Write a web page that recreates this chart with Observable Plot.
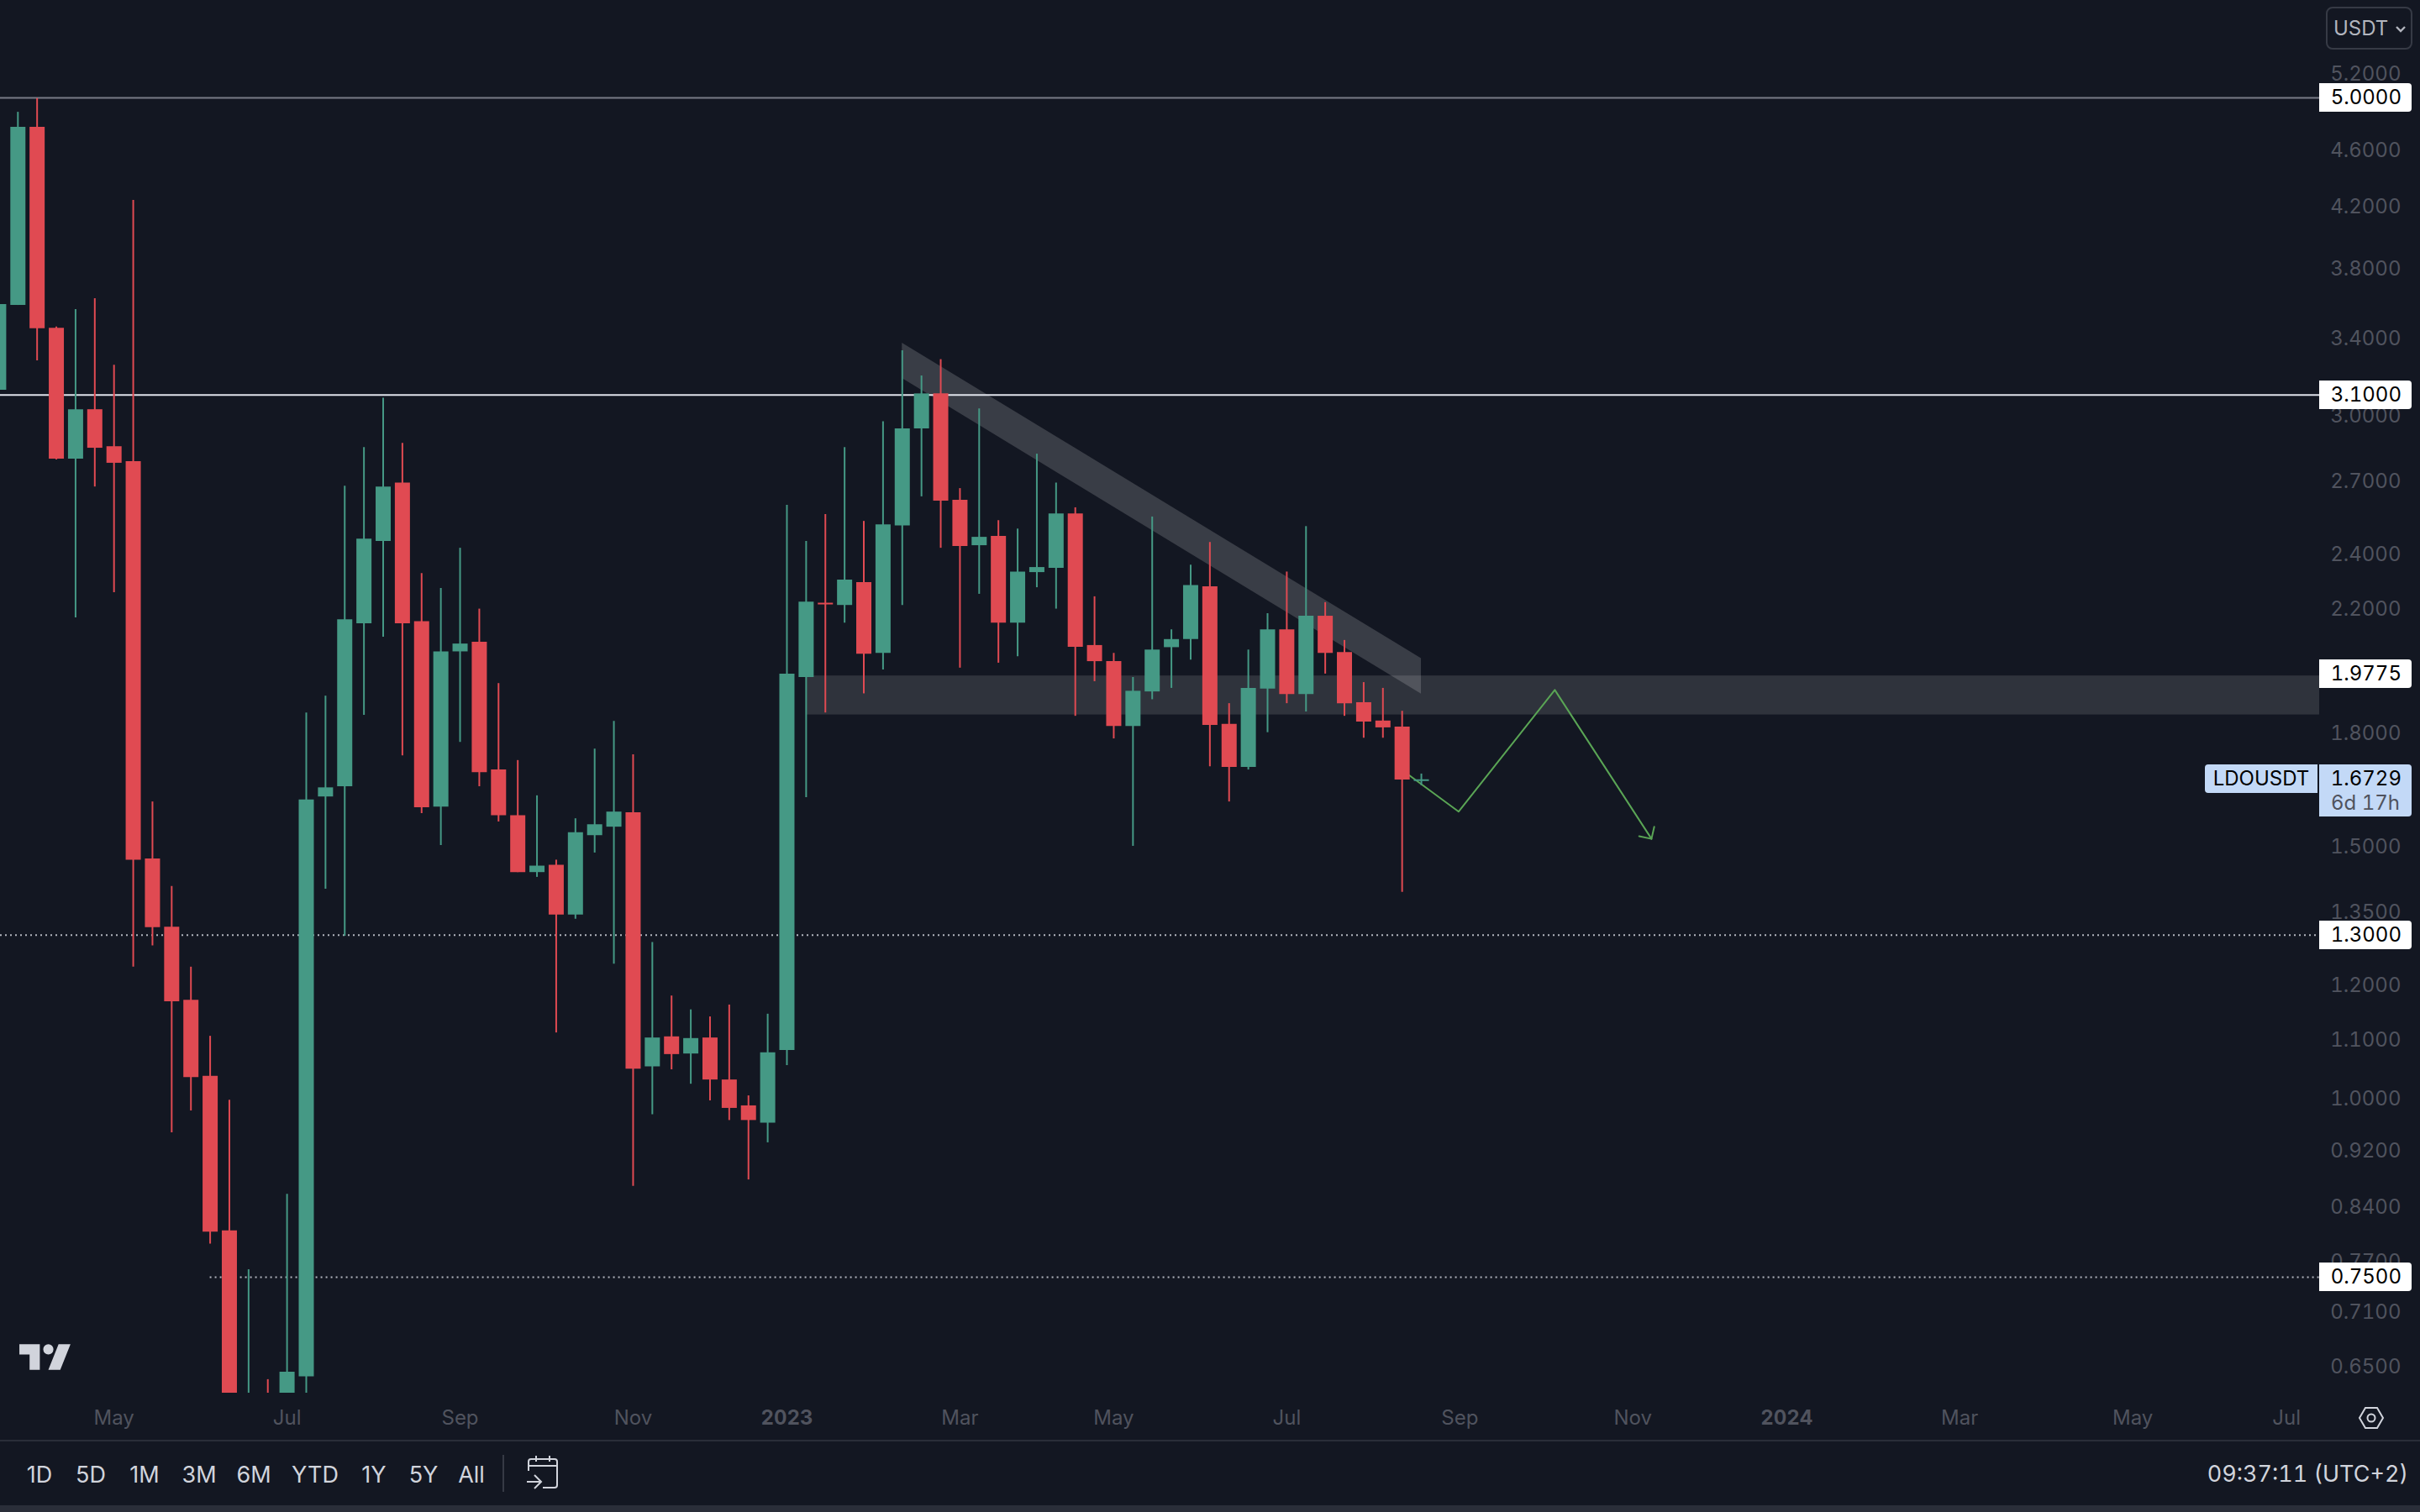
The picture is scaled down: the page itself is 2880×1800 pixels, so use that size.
<!DOCTYPE html>
<html>
<head>
<meta charset="utf-8">
<script src="https://cdn.jsdelivr.net/npm/d3@7"></script>
<script src="https://cdn.jsdelivr.net/npm/@observablehq/plot@0.6"></script>
<style>
html,body{margin:0;padding:0;background:#131722;overflow:hidden}
#wrap{position:relative;width:2880px;height:1800px;font-family:Inter,sans-serif;overflow:hidden;font-variant-numeric:tabular-nums}
#wrap svg{display:block}
.ui{position:absolute;white-space:nowrap;line-height:1}
.tool{color:#d1d4dc;font-size:27px;top:1742px;transform:translateX(-50%);font-variant-numeric:normal}
.lvl{position:absolute;left:2760px;width:110px;height:34px;background:#fff;color:#000;border-radius:0 4px 4px 0;font-size:24px;line-height:34px;text-align:right;box-sizing:border-box;padding-right:12px}
</style>
</head>
<body>
<div id="wrap"></div>
<script>
const weeks = ["2022-03-21","2022-03-28","2022-04-04","2022-04-11","2022-04-18","2022-04-25","2022-05-02","2022-05-09","2022-05-16","2022-05-23","2022-05-30","2022-06-06","2022-06-13","2022-06-20","2022-06-27","2022-07-04","2022-07-11","2022-07-18","2022-07-25","2022-08-01","2022-08-08","2022-08-15","2022-08-22","2022-08-29","2022-09-05","2022-09-12","2022-09-19","2022-09-26","2022-10-03","2022-10-10","2022-10-17","2022-10-24","2022-10-31","2022-11-07","2022-11-14","2022-11-21","2022-11-28","2022-12-05","2022-12-12","2022-12-19","2022-12-26","2023-01-02","2023-01-09","2023-01-16","2023-01-23","2023-01-30","2023-02-06","2023-02-13","2023-02-20","2023-02-27","2023-03-06","2023-03-13","2023-03-20","2023-03-27","2023-04-03","2023-04-10","2023-04-17","2023-04-24","2023-05-01","2023-05-08","2023-05-15","2023-05-22","2023-05-29","2023-06-05","2023-06-12","2023-06-19","2023-06-26","2023-07-03","2023-07-10","2023-07-17","2023-07-24","2023-07-31","2023-08-07","2023-08-14","2023-08-21"];
const opens = [3.124,3.581,4.770,3.452,2.797,3.028,2.853,2.785,1.470,1.317,1.171,1.036,0.808,0.575,0.60,0.585,0.639,1.624,1.651,2.146,2.450,2.691,2.153,1.598,2.051,2.083,1.696,1.576,1.438,1.455,1.343,1.526,1.547,1.583,1.052,1.104,1.074,1.102,1.030,0.988,0.961,1.080,1.968,2.218,2.210,2.293,2.046,2.512,2.936,3.106,2.617,2.433,2.470,2.148,2.330,2.346,2.561,2.072,2.019,1.819,1.923,2.065,2.092,2.277,1.825,1.703,1.932,2.125,1.915,2.172,2.049,1.890,1.835,1.817,1.665];
const highs = [3.70,4.886,4.995,3.459,3.557,3.620,3.253,4.240,1.611,1.406,1.235,1.105,0.997,0.759,0.636,0.857,1.859,1.910,2.677,2.849,3.085,2.868,2.326,2.271,2.423,2.197,1.949,1.722,1.627,1.467,1.568,1.754,1.834,1.738,1.285,1.179,1.153,1.140,1.162,1.004,1.145,2.596,2.450,2.558,2.849,2.530,2.970,3.329,3.197,3.282,2.667,3.032,2.533,2.499,2.819,2.691,2.586,2.241,2.046,1.968,2.548,2.125,2.358,2.446,1.887,2.057,2.181,2.332,2.509,2.220,2.089,1.952,1.934,1.864,1.685];
const lows = [3.05,3.581,3.276,2.793,2.166,2.674,2.256,1.235,1.278,0.946,0.980,0.791,0.58,0.55,0.56,0.56,0.60,1.400,1.298,1.852,2.100,1.735,1.581,1.502,1.773,1.651,1.560,1.438,1.427,1.111,1.334,1.484,1.241,0.868,0.974,1.047,1.023,0.996,0.965,0.877,0.931,1.054,1.622,1.859,2.148,1.917,1.992,2.210,2.632,2.423,1.998,2.250,2.014,2.035,2.274,2.197,1.849,1.955,1.783,1.500,1.899,1.934,2.024,1.705,1.611,1.696,1.801,1.887,1.862,1.979,1.849,1.785,1.785,1.393,1.654];
const closes = [3.586,4.770,3.449,2.797,3.028,2.846,2.778,1.467,1.316,1.168,1.034,0.8065,0.60,0.60,0.58,0.6436,1.616,1.648,2.160,2.459,2.674,2.146,1.596,2.051,2.077,1.689,1.576,1.438,1.453,1.343,1.533,1.553,1.585,1.048,1.102,1.073,1.101,1.030,0.984,0.965,1.076,1.979,2.222,2.212,2.302,2.043,2.516,2.936,3.106,2.614,2.430,2.466,2.148,2.332,2.349,2.561,2.066,2.019,1.819,1.925,2.057,2.092,2.282,1.822,1.703,1.934,2.125,1.915,2.172,2.046,1.887,1.832,1.815,1.669,1.6695];

const priceTicks = [5.2,4.6,4.2,3.8,3.4,3.0,2.7,2.4,2.2,2.0,1.8,1.5,1.35,1.2,1.1,1.0,0.92,0.84,0.77,0.71,0.65];
const monthTicks = ["2022-05-02","2022-07-04","2022-09-05","2022-11-07","2023-03-06","2023-05-01","2023-07-03","2023-09-04","2023-11-06","2024-03-04","2024-05-06","2024-07-01"];
const monthLabels = ["May","Jul","Sep","Nov","Mar","May","Jul","Sep","Nov","Mar","May","Jul"];
const yearTicks = ["2023-01-02","2024-01-01"];
const yearLabels = ["2023","2024"];
const timeDomain = ["2022-03-21T15:22Z","2024-07-13T01:00Z"];
const priceDomain = [0.6223,5.849];

const solidLevels = [{price:5.0,color:"#787b86"},{price:3.1,color:"#e0e3eb"}];
const fullDotted = [1.3];
const partDotted = [{price:0.75,from:"2022-06-06",to:timeDomain[1]}];
const zone = [{from:"2023-01-09",to:timeDomain[1],lo:1.853,hi:1.973}];
const wedge = [{t:"2023-02-13",lo:3.184,hi:3.370},{t:"2023-08-21",lo:1.916,hi:2.029}];
const pathTimes = ["2023-08-16T12:00Z","2023-09-03T14:00Z","2023-10-08T14:00Z","2023-11-12T19:00Z"];
const pathPrices = [1.682,1.586,1.929,1.518];
const headTimes = ["2023-11-13T19:00Z","2023-11-12T19:00Z","2023-11-08T07:00Z"];
const headPrices = [1.548,1.518,1.5244];

const labelPrices = [{v:5.0,t:"5.0000"},{v:3.1,t:"3.1000"},{v:1.9775,t:"1.9775"},{v:1.3,t:"1.3000"},{v:0.75,t:"0.7500"}];
const lastPrice = 1.6729;
const rangeButtons = [["1D",47],["5D",108],["1M",172],["3M",237],["6M",302],["YTD",375],["1Y",445],["5Y",504],["All",561]];

const d = s => new Date(s);
const candles = weeks.map((w,i)=>({t:d(w),o:opens[i],h:highs[i],l:lows[i],c:closes[i]}));
const pathData = pathTimes.map((t,i)=>({t:d(t),p:pathPrices[i]}));
const headData = headTimes.map((t,i)=>({t:d(t),p:headPrices[i]}));
const RED="#e04a52", GREEN="#459985", DIM="#50535e";
const col = c => c.c>=c.o?GREEN:RED;

const chart = Plot.plot({
  width:2880,height:1800,marginTop:0,marginLeft:0,marginRight:120,marginBottom:142,
  style:{background:"#131722",fontFamily:"Inter, sans-serif"},
  x:{type:"utc",domain:timeDomain.map(d)},
  y:{type:"log",domain:priceDomain},
  marks:[
    Plot.rect(zone,{x1:r=>d(r.from),x2:r=>d(r.to),y1:"lo",y2:"hi",fill:"#fff",fillOpacity:0.123,clip:true}),
    Plot.areaY(wedge,{x:r=>d(r.t),y1:"lo",y2:"hi",fill:"#fff",fillOpacity:0.165,clip:true}),
    Plot.ruleY(solidLevels,{y:"price",stroke:"color",strokeWidth:2}),
    Plot.ruleY(fullDotted,{stroke:"#b2b5be",strokeWidth:2,strokeDasharray:"2 4"}),
    Plot.ruleY(partDotted,{y:"price",x1:r=>d(r.from),x2:r=>d(r.to),stroke:"#b2b5be",strokeWidth:2,strokeDasharray:"2 4"}),
    Plot.line(pathData,{x:"t",y:"p",stroke:"#5aa555",strokeWidth:2,clip:true}),
    Plot.line(headData,{x:"t",y:"p",stroke:"#5aa555",strokeWidth:2,clip:true}),
    Plot.ruleX(candles,{x:"t",y1:"l",y2:"h",stroke:col,strokeWidth:2,clip:true}),
    Plot.ruleX(candles,{x:"t",y1:"o",y2:"c",stroke:col,strokeWidth:18,clip:true}),
    Plot.axisY({anchor:"right",ticks:priceTicks,tickFormat:v=>v.toFixed(4),tickSize:0,tickPadding:97,textAnchor:"end",fill:DIM,fontSize:24,dy:1,label:null}),
    Plot.axisX({anchor:"bottom",ticks:monthTicks.map(d),tickFormat:(v)=>monthLabels[monthTicks.findIndex(m=>+d(m)===+v)],tickSize:0,tickPadding:20,fill:DIM,fontSize:24,label:null}),
    Plot.axisX({anchor:"bottom",ticks:yearTicks.map(d),tickFormat:(v)=>yearLabels[yearTicks.findIndex(m=>+d(m)===+v)],tickSize:0,tickPadding:20,fill:DIM,fontSize:24,fontWeight:700,label:null})
  ]
});
const wrap=document.getElementById("wrap");
wrap.appendChild(chart);
const Y=chart.scale("y");
function add(html){const t=document.createElement("template");t.innerHTML=html.trim();wrap.appendChild(t.content.firstChild);}

labelPrices.forEach(l=>add(`<div class="lvl" style="top:${Y.apply(l.v)-17}px">${l.t}</div>`));
const ly=Y.apply(lastPrice);
add(`<div class="ui" style="left:2624px;top:${ly-16.5}px;width:134px;height:34px;background:#c3d9f7;color:#000;border-radius:4px 0 0 4px;font-size:24px;line-height:34px;text-align:center">LDOUSDT</div>`);
add(`<div class="ui" style="left:2760px;top:${ly-16.5}px;width:110px;height:62px;background:#c3d9f7;border-radius:0 4px 4px 0"></div>`);
add(`<div class="ui" style="left:2760px;width:98px;text-align:right;top:${ly-11}px;color:#000;font-size:24px">${lastPrice.toFixed(4)}</div>`);
add(`<div class="ui" style="left:2760px;width:96px;text-align:right;top:${ly+18}px;color:#50535e;font-size:24px">6d 17h</div>`);

add(`<div class="ui" style="left:2768px;top:8px;width:103px;height:51px;box-sizing:border-box;border:2px solid #363a45;border-radius:8px"></div>`);
add(`<div class="ui" style="left:2777px;top:22px;color:#b2b5be;font-size:24px">USDT</div>`);
add(`<svg class="ui" style="left:2850px;top:30px" width="14" height="10"><path d="M2 2l5 5l5-5" fill="none" stroke="#b2b5be" stroke-width="2.4"/></svg>`);

add(`<div class="ui" style="left:0;top:1714px;width:2880px;height:2px;background:#2a2e39"></div>`);
add(`<div class="ui" style="left:0;top:1792px;width:2880px;height:8px;background:#2a2e39"></div>`);
rangeButtons.forEach(([t,x])=>add(`<div class="ui tool" style="left:${x}px">${t}</div>`));
add(`<div class="ui" style="left:598px;top:1732px;width:2px;height:44px;background:#363a45"></div>`);
add(`<svg class="ui" style="left:624px;top:1732px" width="44" height="42" viewBox="0 0 44 42"><path d="M5 19V8q0-3 3-3h28q3 0 3 3v28q0 3-3 3H22M5 13H39M14 1v7M30 1v7M3 32H19M12 24l8 8l-8 8" fill="none" stroke="#d1d4dc" stroke-width="2"/></svg>`);
add(`<div class="ui" style="right:14px;top:1741px;color:#d1d4dc;font-size:27px">09:37:11 (UTC+2)</div>`);
add(`<svg class="ui" style="left:2806px;top:1674px" width="32" height="28" viewBox="0 0 32 28"><path d="M9 2H23L30 14L23 26H9L2 14Z" fill="none" stroke="#d1d4dc" stroke-width="2"/><circle cx="16" cy="14" r="4.5" fill="none" stroke="#d1d4dc" stroke-width="2"/></svg>`);
add(`<svg class="ui" style="left:19px;top:1588px" width="73" height="57" viewBox="0 0 36 28"><path d="M14 6H2v6h6v9h6V6zm12 15h-7l6-15h7l-6 15zm-7-9a3 3 0 1 0 0-6 3 3 0 0 0 0 6z" fill="#d1d4dc"/></svg>`);
</script>
</body>
</html>
